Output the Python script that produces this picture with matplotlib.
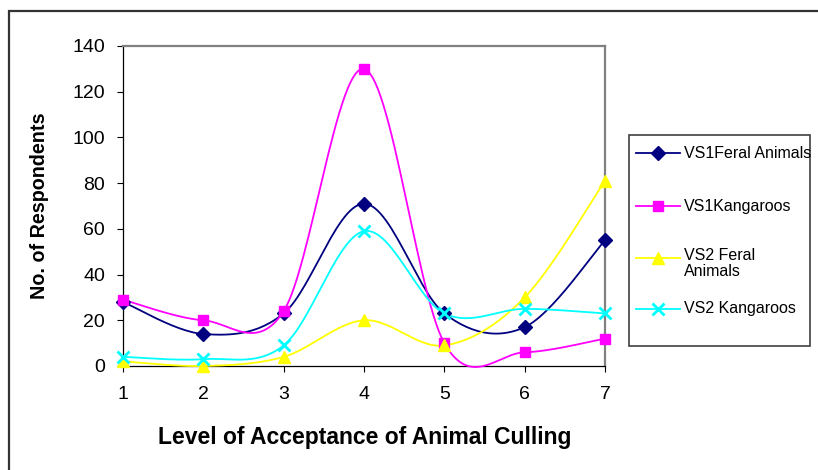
import numpy as np
import matplotlib
matplotlib.use("Agg")
import matplotlib.pyplot as plt
from matplotlib.lines import Line2D
from matplotlib.patches import Rectangle

plt.rcParams['font.family'] = ['Liberation Sans', 'DejaVu Sans']

# ---- data ----
levels = [1, 2, 3, 4, 5, 6, 7]
vs1_feral = [28, 14, 23, 71, 23, 17, 55]
vs1_kangaroos = [29, 20, 24, 130, 10, 6, 12]
vs2_feral = [2, 0, 4, 20, 9, 30, 81]
vs2_kangaroos = [4, 3, 9, 59, 23, 25, 23]
series_labels = ["VS1Feral Animals", "VS1Kangaroos", "VS2 Feral\nAnimals", "VS2 Kangaroos"]
y_ticks = [0, 20, 40, 60, 80, 100, 120, 140]

series = [vs1_feral, vs1_kangaroos, vs2_feral, vs2_kangaroos]
colors = ["#000080", "#FF00FF", "#FFFF00", "#00FFFF"]
markers = ["D", "s", "^", "x"]
msizes = [7, 7, 8.5, 9]


def smooth(x, y, n=30):
    """Excel-like smoothed line (cubic Bezier, Catmull-Rom tension 1/6)."""
    x = np.asarray(x, float)
    y = np.asarray(y, float)
    P = np.column_stack([x, y])
    Pe = np.vstack([P[0], P, P[-1]])
    out = []
    t = np.linspace(0, 1, n)[:, None]
    for i in range(len(P) - 1):
        p0 = Pe[i + 1]
        p3 = Pe[i + 2]
        c1 = p0 + (Pe[i + 2] - Pe[i]) / 6.0
        c2 = p3 - (Pe[i + 3] - Pe[i + 1]) / 6.0
        seg = ((1 - t) ** 3) * p0 + 3 * ((1 - t) ** 2) * t * c1 + 3 * (1 - t) * t ** 2 * c2 + t ** 3 * p3
        out.append(seg if i == 0 else seg[1:])
    out = np.vstack(out)
    return out[:, 0], out[:, 1]


W, H = 818, 470
fig = plt.figure(figsize=(W / 100, H / 100), dpi=100)
fig.patch.set_facecolor("white")

L, R, T, B = 123, 605, 46, 366
ax = fig.add_axes([L / W, 1 - B / H, (R - L) / W, (B - T) / H])

for vals, c, m, ms in zip(series, colors, markers, msizes):
    sx, sy = smooth(levels, vals)
    ax.plot(sx, sy, color=c, lw=1.3, clip_on=False, zorder=3)
    ax.plot(levels, vals, linestyle="none", marker=m, color=c, markersize=ms,
            markeredgewidth=(2 if m == "x" else 1), clip_on=False, zorder=4)

ax.set_xlim(1, 7)
ax.set_ylim(0, 140)
ax.set_xticks(levels)
ax.set_xticklabels([str(v) for v in levels])
ax.set_yticks(y_ticks)
ax.tick_params(axis="both", direction="out", length=4.5, width=0.8, color="black",
               labelsize=14)
ax.tick_params(axis="y", pad=8.5)
ax.tick_params(axis="x", pad=10)
for s in ["left", "bottom"]:
    ax.spines[s].set_color("black")
    ax.spines[s].set_linewidth(0.9)
for s in ["top", "right"]:
    ax.spines[s].set_color("#808080")
    ax.spines[s].set_linewidth(1.6)

ax.set_xlabel("Level of Acceptance of Animal Culling", fontsize=16.5, fontweight="bold")
ax.xaxis.set_label_coords(0.501, -0.186)
ax.set_ylabel("No. of Respondents", fontsize=14.2, fontweight="bold")
ax.yaxis.set_label_coords(-0.154, 0.5)

# outer chart frame (top and left edges visible)
fig.add_artist(Rectangle((9 / W, -0.1), 1.2, 1 - 11 / H + 0.1, transform=fig.transFigure,
                         fill=False, edgecolor="#333333", lw=1.6))

# legend drawn to match Excel layout
lx0, lx1, ly0, ly1 = 629, 810, 135, 346
fig.add_artist(Rectangle((lx0 / W, 1 - ly1 / H), (lx1 - lx0) / W, (ly1 - ly0) / H,
                         transform=fig.transFigure, fill=True, facecolor="white",
                         edgecolor="#404040", lw=1.2))
row_y = [153, 206, 258, 309]
for lab, c, m, ms, yy in zip(series_labels, colors, markers, msizes, row_y):
    fy = 1 - yy / H
    fig.add_artist(Line2D([636 / W, 680 / W], [fy, fy], transform=fig.transFigure,
                          color=c, lw=1.3))
    fig.add_artist(Line2D([658 / W], [fy], transform=fig.transFigure, color=c,
                          marker=m, markersize=ms, markeredgewidth=(2 if m == "x" else 1),
                          linestyle="none"))
    if "\n" in lab:
        fig.text(684 / W, fy + 10 / H, lab, fontsize=11.5, va="top", ha="left",
                 linespacing=1.1)
    else:
        fig.text(684 / W, fy, lab, fontsize=11.5, va="center", ha="left")

fig.savefig("out.png", dpi=100, facecolor="white")
